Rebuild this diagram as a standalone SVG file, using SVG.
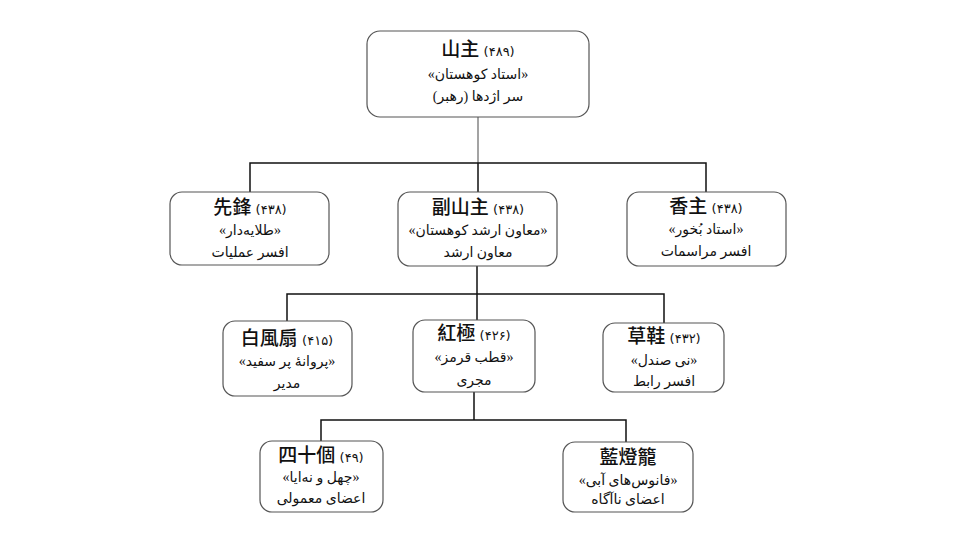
<svg xmlns="http://www.w3.org/2000/svg" width="960" height="540" viewBox="0 0 960 540">
<style>
.box{fill:#fff;stroke:#555;stroke-width:1.2}
.t{font-family:"Noto Sans CJK TC","Noto Sans CJK SC",sans-serif;font-size:19px;font-weight:500;fill:#111;text-anchor:middle}
.n{font-family:"DejaVu Sans",sans-serif;font-size:13px;font-weight:400}
.p{font-family:"Liberation Serif","DejaVu Sans",serif;font-size:14px;fill:#111;text-anchor:middle}
.r{direction:rtl}
.c{fill:none;stroke:#111;stroke-width:1.5}
</style>
<rect width="960" height="540" fill="#fff"/>
<g id="connectors">
<path d="M478,117V163" fill="none" stroke="#666" stroke-width="1.2"/>
<path class="c" d="M250,192V163H706V192M478,163V192"/>
<path class="c" d="M477,266V294M287,321V294H664V323M477,294V320"/>
<path class="c" d="M474,392V420M321,441V420H626V442"/>
</g>
<g id="shanzhu">
<rect class="box" x="367" y="31" width="222" height="86" rx="13"/>
<text class="t" x="478" y="56">山主 <tspan class="n">(۴۸۹)</tspan></text>
<text class="p" x="478" y="79">«استاد کوهستان»</text>
<text class="p r" x="478" y="101">سر اژدها (رهبر)</text>
</g>
<g id="xianfeng">
<rect class="box" x="170" y="192" width="159" height="73" rx="12"/>
<text class="t" x="250" y="214">先鋒 <tspan class="n">(۴۳۸)</tspan></text>
<text class="p" x="250" y="235">«طلایه‌دار»</text>
<text class="p r" x="250" y="257">افسر عملیات</text>
</g>
<g id="fushanzhu">
<rect class="box" x="398" y="192" width="159" height="74" rx="12"/>
<text class="t" x="478" y="214">副山主 <tspan class="n">(۴۳۸)</tspan></text>
<text class="p" x="478" y="235">«معاون ارشد کوهستان»</text>
<text class="p r" x="478" y="257">معاون ارشد</text>
</g>
<g id="xiangzhu">
<rect class="box" x="627" y="192" width="159" height="74" rx="12"/>
<text class="t" x="706" y="213">香主 <tspan class="n">(۴۳۸)</tspan></text>
<text class="p" x="706" y="234">«استاد بُخور»</text>
<text class="p r" x="706" y="256">افسر مراسمات</text>
</g>
<g id="baishan">
<rect class="box" x="223" y="321" width="129" height="75" rx="12"/>
<text class="t" x="287" y="345">白風扇 <tspan class="n">(۴۱۵)</tspan></text>
<text class="p" x="287" y="366">«پروانهٔ پر سفید»</text>
<text class="p r" x="287" y="388">مدیر</text>
</g>
<g id="hongji">
<rect class="box" x="413" y="320" width="122" height="72" rx="12"/>
<text class="t" x="474" y="340">紅極 <tspan class="n">(۴۲۶)</tspan></text>
<text class="p" x="474" y="362">«قطب قرمز»</text>
<text class="p r" x="474" y="385">مجری</text>
</g>
<g id="caoxie">
<rect class="box" x="603" y="323" width="121" height="69" rx="12"/>
<text class="t" x="664" y="343">草鞋 <tspan class="n">(۴۳۲)</tspan></text>
<text class="p" x="664" y="365">«نی صندل»</text>
<text class="p r" x="664" y="386">افسر رابط</text>
</g>
<g id="sishige">
<rect class="box" x="260" y="441" width="123" height="71" rx="12"/>
<text class="t" x="321" y="462">四十個 <tspan class="n">(۴۹)</tspan></text>
<text class="p" x="321" y="482">«چهل و نه‌ایا»</text>
<text class="p r" x="321" y="503">اعضای معمولی</text>
</g>
<g id="landenglong">
<rect class="box" x="563" y="442" width="130" height="70" rx="12"/>
<text class="t" x="628" y="464">藍燈籠</text>
<text class="p" x="628" y="485">«فانوس‌های آبی»</text>
<text class="p r" x="628" y="504">اعضای ناآگاه</text>
</g>
</svg>
